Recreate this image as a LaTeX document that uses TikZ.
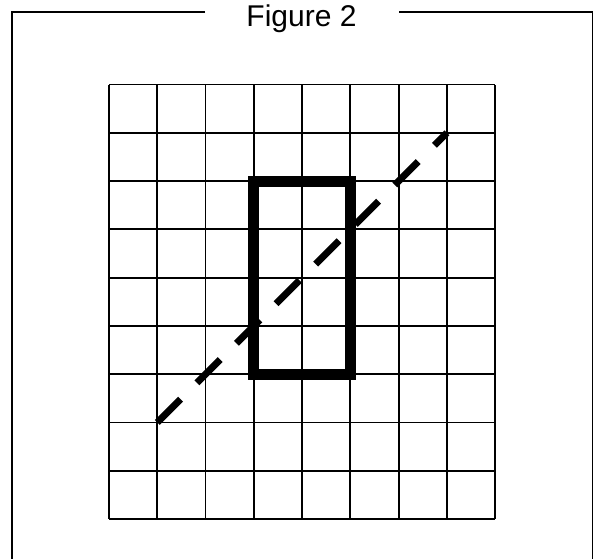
\documentclass[tikz,border=0pt]{standalone}
\usepackage{fontspec}
\setmainfont{Liberation Sans}
\begin{document}
\begin{tikzpicture}[x=1pt,y=1pt,
  frameline/.style={line width=1.8pt},
  gridline/.style={line width=1.8pt},
  thickbox/.style={line width=11pt, line join=miter},
  diagline/.style={line width=7pt, dash pattern=on 33pt off 23pt, line cap=butt}]
\useasboundingbox (0,0) rectangle (594,559);
\def\cs{48.27}
% title
\node[anchor=base, inner sep=0pt, font=\fontsize{30}{36}\selectfont] (title) at (301.5,532) {Figure 2};
\coordinate (tl) at (12.3,547);
\coordinate (tr) at (592.5,547);
\coordinate (bl) at (12.3,0);
\coordinate (br) at (592.5,0);
\draw[frameline] (205,547) -- (tl) -- (bl);
\draw[frameline] (399,547) -- (tr) -- (br);
% grid
\foreach \i in {0,...,8} {
  \draw[gridline] (109+\i*\cs,40) -- (109+\i*\cs,40+9*\cs);
}
\foreach \j in {0,...,9} {
  \draw[gridline] (109,40+\j*\cs) -- (109+8*\cs,40+\j*\cs);
}
% thick rectangle
\draw[thickbox] (109+3*\cs,40+3*\cs) rectangle (109+5*\cs,40+7*\cs);
% dashed diagonal
\coordinate (ds) at (109+1*\cs,40+2*\cs);
\coordinate (de) at (109+7*\cs,40+8*\cs);
\draw[diagline] (ds) -- (de);
\end{tikzpicture}
\end{document}
